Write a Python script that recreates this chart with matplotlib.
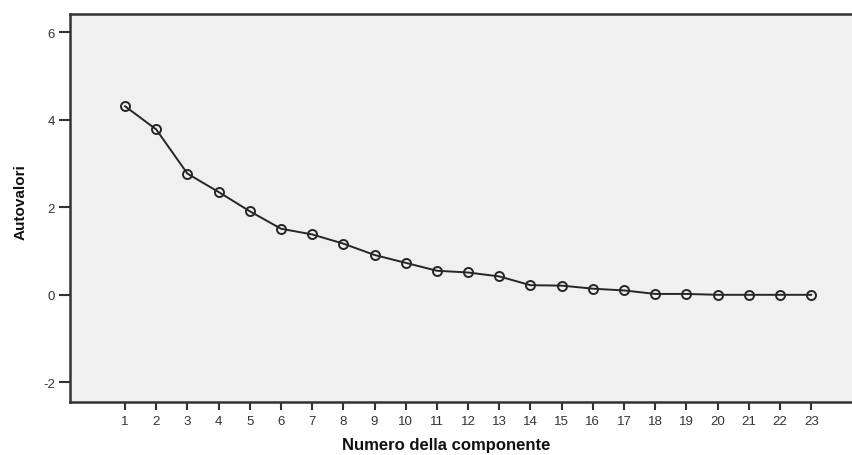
import numpy as np
import matplotlib.pyplot as plt

plt.rcParams['font.family'] = ['Liberation Sans', 'DejaVu Sans']
plt.rcParams['axes.unicode_minus'] = False

componenti = np.arange(1, 24)
autovalori = [4.31, 3.78, 2.77, 2.35, 1.91, 1.51, 1.38, 1.17, 0.91, 0.73,
              0.55, 0.51, 0.42, 0.22, 0.21, 0.14, 0.10, 0.02, 0.02, 0.0,
              0.0, 0.0, 0.0]
yticks = [-2, 0, 2, 4, 6]

fig = plt.figure(figsize=(8.53, 4.56), dpi=100)
ax = fig.add_axes([0.0821, 0.1162, 0.9179, 0.8516])
ax.set_facecolor('#f0f0f0')

ax.plot(componenti, autovalori, color='#262626', lw=1.4, marker='o',
        markersize=6.5, markerfacecolor='none', markeredgecolor='#262626',
        markeredgewidth=1.4)

ax.set_xlim(-0.763, 24.34)
ax.set_ylim(-2.45, 6.425)
ax.set_xticks(componenti)
ax.set_yticks(yticks)
ax.tick_params(axis='x', direction='out', length=6, width=1.5, color='#333333',
               labelsize=9.5, labelcolor='#333333', pad=3)
ax.tick_params(axis='y', direction='out', length=8, width=1.5, color='#333333',
               labelsize=9.5, labelcolor='#333333', pad=3)

for s in ['left', 'bottom', 'top']:
    ax.spines[s].set_color('#333333')
    ax.spines[s].set_linewidth(1.8)
ax.spines['right'].set_visible(False)

ax.set_xlabel('Numero della componente', fontsize=12, fontweight='bold', color='#111111')
ax.xaxis.set_label_coords(0.48, -0.09)
ax.set_ylabel('Autovalori', fontsize=11, fontweight='bold', color='#111111')
ax.yaxis.set_label_coords(-0.054, 0.518)

fig.savefig('out.png', dpi=100)
